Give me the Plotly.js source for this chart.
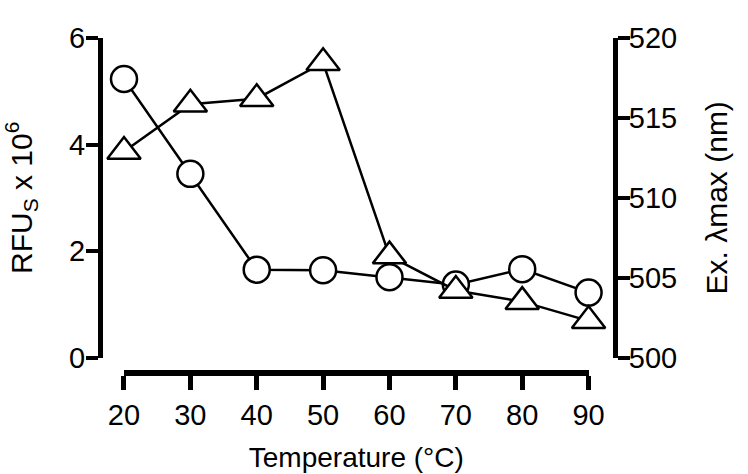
<!DOCTYPE html>
<html>
<head>
<meta charset="utf-8">
<script src="https://cdn.plot.ly/plotly-3.0.1.min.js"></script>
<style>html,body{margin:0;padding:0;background:#fff;}#chart{width:748px;height:474px;}</style>
</head>
<body>
<div id="chart"></div>
<script>
// Data
const temperatures = [20, 30, 40, 50, 60, 70, 80, 90];
const rfuValues = [5.23, 3.45, 1.65, 1.64, 1.51, 1.37, 1.66, 1.22];          // circles, left axis (RFUs x 10^6)
const lambdaMaxValues = [512.9, 515.85, 516.2, 518.45, 506.35, 504.2, 503.5, 502.3]; // triangles, right axis (nm)
const xTicks = [20, 30, 40, 50, 60, 70, 80, 90];
const yLeftTicks = [0, 2, 4, 6];
const yRightTicks = [500, 505, 510, 515, 520];

const FONT = 'Arial, "Liberation Sans", Helvetica, sans-serif';

const traces = [
  {
    x: temperatures, y: lambdaMaxValues, yaxis: 'y2', xaxis: 'x',
    type: 'scatter', mode: 'lines+markers', cliponaxis: false,
    line: {color: '#000', width: 2.5},
    marker: {symbol: 'triangle-up', size: 29, color: '#fff', line: {color: '#000', width: 2.5}},
    showlegend: false, hoverinfo: 'skip'
  },
  {
    x: temperatures, y: rfuValues, yaxis: 'y', xaxis: 'x',
    type: 'scatter', mode: 'lines+markers', cliponaxis: false,
    line: {color: '#000', width: 2.5},
    marker: {symbol: 'circle', size: 26, color: '#fff', line: {color: '#000', width: 2.5}},
    showlegend: false, hoverinfo: 'skip'
  }
];

const layout = {
  width: 748, height: 474,
  margin: {l: 100, r: 133, t: 38, b: 101, pad: 0},
  paper_bgcolor: '#fff', plot_bgcolor: 'rgba(0,0,0,0)',
  font: {family: FONT, color: '#000', size: 28},
  showlegend: false,
  xaxis: {
    domain: [0.0466, 0.9487], range: [20, 90],
    anchor: 'free', position: 0,
    tickmode: 'array', tickvals: xTicks, ticktext: xTicks.map(String),
    showline: true, linecolor: '#000', linewidth: 6,
    ticks: 'outside', ticklen: 14, tickwidth: 5, tickcolor: '#000',
    showgrid: false, zeroline: false, automargin: false,
    tickfont: {family: FONT, size: 29, color: '#000'},
    title: {text: 'Temperature (°C)', font: {family: FONT, size: 28, color: '#000'}, standoff: 17}
  },
  yaxis: {
    domain: [0.046, 1], range: [0, 6],
    anchor: 'free', position: 0, side: 'left',
    tickmode: 'array', tickvals: yLeftTicks, ticktext: yLeftTicks.map(String),
    showline: true, linecolor: '#000', linewidth: 5,
    ticks: 'outside', ticklen: 12, tickwidth: 4, tickcolor: '#000',
    ticklabelstandoff: -5,
    showgrid: false, zeroline: false, automargin: false,
    tickfont: {family: FONT, size: 29, color: '#000'},
    title: {text: 'RFU<sub>S</sub> x 10<sup>6</sup>', font: {family: FONT, size: 30, color: '#000'}, standoff: 30}
  },
  yaxis2: {
    domain: [0.046, 1], range: [500, 520],
    overlaying: 'y', anchor: 'free', position: 1, side: 'right',
    tickmode: 'array', tickvals: yRightTicks, ticktext: yRightTicks.map(String),
    showline: true, linecolor: '#000', linewidth: 5,
    ticks: 'outside', ticklen: 12, tickwidth: 4, tickcolor: '#000',
    ticklabelstandoff: -7,
    showgrid: false, zeroline: false, automargin: false,
    tickfont: {family: FONT, size: 29, color: '#000'},
    title: {text: 'Ex. λmax (nm)', font: {family: FONT, size: 30, color: '#000'}, standoff: 29}
  }
};

Plotly.newPlot('chart', traces, layout, {staticPlot: true, displayModeBar: false});
</script>
</body>
</html>
